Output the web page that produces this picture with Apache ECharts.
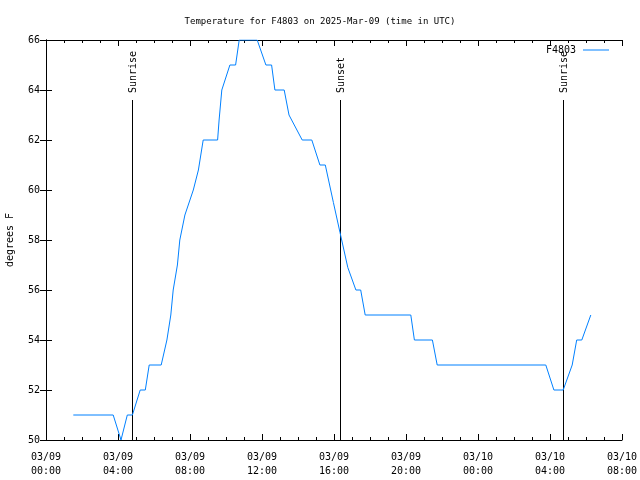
<!DOCTYPE html>
<html>
<head>
<meta charset="utf-8">
<script src="https://cdn.jsdelivr.net/npm/echarts@6/dist/echarts.min.js"></script>
<style>html,body{margin:0;padding:0;background:#fff}#c{width:640px;height:480px}</style>
</head>
<body>
<div id="c"></div>
<script>
var titleText = "Temperature for F4803 on 2025-Mar-09 (time in UTC)";
var seriesName = "F4803";
var yAxisName = "degrees F";
var startTime = "2025-03-09T00:00";
var times = [
  "2025-03-09T01:31","2025-03-09T03:44","2025-03-09T04:10","2025-03-09T04:31","2025-03-09T04:48",
  "2025-03-09T05:14","2025-03-09T05:31","2025-03-09T05:44","2025-03-09T06:24","2025-03-09T06:43",
  "2025-03-09T06:56","2025-03-09T07:04","2025-03-09T07:18","2025-03-09T07:26","2025-03-09T07:43",
  "2025-03-09T08:11","2025-03-09T08:28","2025-03-09T08:44","2025-03-09T09:32","2025-03-09T09:37",
  "2025-03-09T09:46","2025-03-09T10:13","2025-03-09T10:32","2025-03-09T10:44","2025-03-09T11:44",
  "2025-03-09T12:13","2025-03-09T12:32","2025-03-09T12:43","2025-03-09T13:14","2025-03-09T13:30",
  "2025-03-09T14:14","2025-03-09T14:46","2025-03-09T15:13","2025-03-09T15:31","2025-03-09T15:58",
  "2025-03-09T16:20","2025-03-09T16:46","2025-03-09T17:13","2025-03-09T17:29","2025-03-09T17:44",
  "2025-03-09T20:16","2025-03-09T20:28","2025-03-09T21:28","2025-03-09T21:44","2025-03-10T03:46",
  "2025-03-10T04:13","2025-03-10T04:44","2025-03-10T05:14","2025-03-10T05:29","2025-03-10T05:46",
  "2025-03-10T06:16"
];
var temps = [
  51,51,50,51,51,
  52,52,53,53,54,
  55,56,57,58,59,
  60,60.8,62,62,62.8,
  64,65,65,66,66,
  65,65,64,64,63,
  62,62,61,61,59.5,
  58.3,56.9,56,56,55,
  55,54,54,53,53,
  52,52,53,54,54,
  55
];
var eventNames = ["Sunrise","Sunset","Sunrise"];
var eventTimes = ["2025-03-09T04:47","2025-03-09T16:20","2025-03-10T04:43"];
var xTickLabels = ["03/09\n00:00","03/09\n04:00","03/09\n08:00","03/09\n12:00","03/09\n16:00","03/09\n20:00","03/10\n00:00","03/10\n04:00","03/10\n08:00"];
var yMin = 50, yMax = 66, yStep = 2;
var xMinH = 0, xMaxH = 32, xStepH = 4;

function hoursSince(s) {
  return (Date.parse(s + ":00Z") - Date.parse(startTime + ":00Z")) / 3600000;
}
var lineData = times.map(function (t, i) { return [hoursSince(t), temps[i]]; });
var eventData = eventTimes.map(function (t) { return [hoursSince(t)]; });

var FONT = "DejaVu Sans Mono";
var chart = echarts.init(document.getElementById('c'), null, {renderer: 'canvas'});
var axisLineStyle = {show: true, lineStyle: {color: '#000', width: 1}};
chart.setOption({
  animation: false,
  backgroundColor: '#fff',
  textStyle: {fontFamily: FONT},
  title: {
    text: titleText, left: 'center', top: 12,
    textStyle: {fontFamily: FONT, fontSize: 9, fontWeight: 'normal', color: '#000'}
  },
  legend: {
    data: [{name: seriesName, icon: 'rect'}], right: 26, top: 40, align: 'right',
    itemWidth: 26, itemHeight: 1, itemGap: 4,
    textStyle: {fontFamily: FONT, fontSize: 10, color: '#000', padding: [0, 2, 0, 0]}
  },
  grid: {left: 46, right: 18, top: 40, bottom: 40, containLabel: false, outerBoundsMode: 'none'},
  xAxis: [{
    type: 'value', min: xMinH, max: xMaxH, interval: xStepH, position: 'bottom',
    axisLine: axisLineStyle, splitLine: {show: false},
    axisTick: {show: true, inside: true, length: 6, lineStyle: {color: '#000'}},
    minorTick: {show: true, splitNumber: 4, length: 3, lineStyle: {color: '#000'}},
    axisLabel: {
      margin: 10, color: '#000', fontFamily: FONT, fontSize: 10, lineHeight: 14,
      formatter: function (v) { return xTickLabels[Math.round((v - xMinH) / xStepH)]; }
    }
  }, {
    type: 'value', min: xMinH, max: xMaxH, interval: xStepH, position: 'top',
    axisLine: axisLineStyle, splitLine: {show: false},
    axisTick: {show: true, inside: true, length: 6, lineStyle: {color: '#000'}},
    minorTick: {show: true, splitNumber: 4, length: 3, lineStyle: {color: '#000'}},
    axisLabel: {show: false}
  }],
  yAxis: [{
    type: 'value', min: yMin, max: yMax, interval: yStep, position: 'left',
    name: yAxisName, nameLocation: 'middle', nameGap: 31, nameRotate: 90,
    nameTextStyle: {fontFamily: FONT, fontSize: 10, color: '#000'},
    axisLine: axisLineStyle, splitLine: {show: false},
    axisTick: {show: true, inside: true, length: 6, lineStyle: {color: '#000'}},
    axisLabel: {margin: 6, color: '#000', fontFamily: FONT, fontSize: 10}
  }, {
    type: 'value', min: yMin, max: yMax, interval: yStep, position: 'right',
    axisLine: axisLineStyle, splitLine: {show: false},
    axisTick: {show: true, inside: true, length: 6, lineStyle: {color: '#000'}},
    axisLabel: {show: false}
  }],
  series: [{
    name: seriesName, type: 'line', data: lineData, xAxisIndex: 0, yAxisIndex: 0,
    symbol: 'none', showSymbol: false, clip: true,
    lineStyle: {color: '#0080ff', width: 1},
    itemStyle: {color: '#0080ff'}
  }, {
    name: 'events', type: 'custom', data: eventData, xAxisIndex: 0, yAxisIndex: 0,
    clip: false, silent: true,
    renderItem: function (params, api) {
      var bottom = api.coord([api.value(0), yMin]);
      var top = params.coordSys.y + 60;
      var x = Math.round(bottom[0]) + 0.5;
      return {
        type: 'group',
        children: [{
          type: 'line',
          shape: {x1: x, y1: bottom[1], x2: x, y2: top},
          style: {stroke: '#000', lineWidth: 1}
        }, {
          type: 'text', x: x + 1, y: top - 7, rotation: Math.PI / 2,
          style: {
            text: eventNames[params.dataIndex], fill: '#000', font: '10px "' + FONT + '"',
            textAlign: 'left', textVerticalAlign: 'middle'
          }
        }]
      };
    }
  }]
});
</script>
</body>
</html>
